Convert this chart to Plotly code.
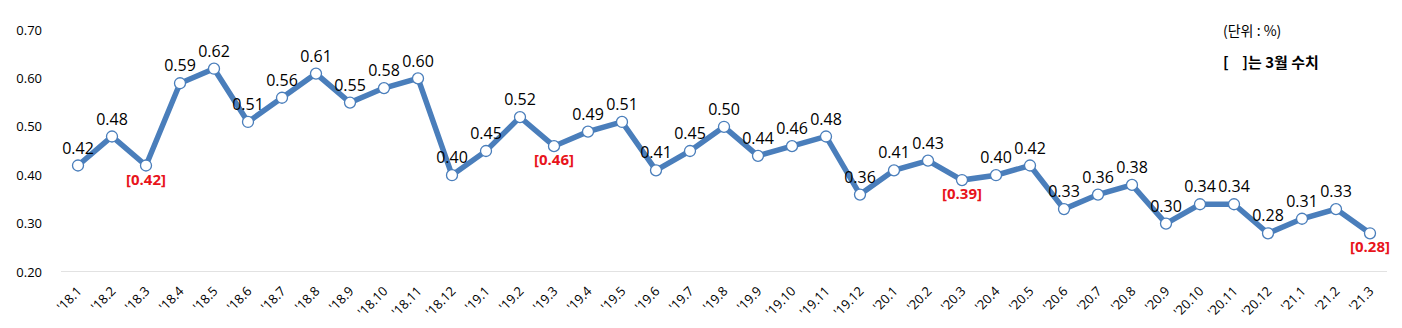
import plotly.graph_objects as go

months = ["'18.1", "'18.2", "'18.3", "'18.4", "'18.5", "'18.6", "'18.7", "'18.8", "'18.9", "'18.10",
          "'18.11", "'18.12", "'19.1", "'19.2", "'19.3", "'19.4", "'19.5", "'19.6", "'19.7", "'19.8",
          "'19.9", "'19.10", "'19.11", "'19.12", "'20.1", "'20.2", "'20.3", "'20.4", "'20.5", "'20.6",
          "'20.7", "'20.8", "'20.9", "'20.10", "'20.11", "'20.12", "'21.1", "'21.2", "'21.3"]
rates = [0.42, 0.48, 0.42, 0.59, 0.62, 0.51, 0.56, 0.61, 0.55, 0.58,
         0.60, 0.40, 0.45, 0.52, 0.46, 0.49, 0.51, 0.41, 0.45, 0.50,
         0.44, 0.46, 0.48, 0.36, 0.41, 0.43, 0.39, 0.40, 0.42, 0.33,
         0.36, 0.38, 0.30, 0.34, 0.34, 0.28, 0.31, 0.33, 0.28]
y_ticks = [0.20, 0.30, 0.40, 0.50, 0.60, 0.70]

LINE = "#4A7EBB"
FONT = "Open Sans"

is_march = [m.endswith(".3") for m in months]
labels = [f"<b>[{v:.2f}]</b>" if mar else f"{v:.2f}" for v, mar in zip(rates, is_march)]
positions = ["bottom center" if mar else "top center" for mar in is_march]
colors = ["#E8141B" if mar else "#000000" for mar in is_march]
sizes = [15 if mar else 16 for mar in is_march]

fig = go.Figure()
fig.add_trace(go.Scatter(
    x=months, y=rates,
    mode="lines+markers+text",
    line=dict(color=LINE, width=5.5),
    marker=dict(size=11, color="white", line=dict(color=LINE, width=1.3)),
    text=labels, textposition=positions,
    textfont=dict(family=FONT, size=sizes, color=colors),
    cliponaxis=False,
    hoverinfo="x+y",
))

fig.update_layout(
    width=1402, height=328,
    margin=dict(l=61, r=15, t=30, b=56),
    paper_bgcolor="white", plot_bgcolor="white",
    showlegend=False,
    font=dict(family=FONT, color="#000000"),
    xaxis=dict(
        type="category", range=[-0.5, len(months) - 0.5],
        tickangle=-45, tickfont=dict(family=FONT, size=13),
        showgrid=False, showline=False, zeroline=False, ticks="",
        ticklabelstandoff=8, automargin=False,
    ),
    yaxis=dict(
        range=[0.2, 0.7], tickvals=y_ticks,
        ticktext=[f"{t:.2f}" for t in y_ticks],
        tickfont=dict(family=FONT, size=13),
        showgrid=False, zeroline=False, showline=False, ticks="",
        ticklabelstandoff=18, automargin=False,
    ),
    shapes=[dict(type="line", xref="paper", yref="y", x0=0, x1=1, y0=0.2, y1=0.2,
                 line=dict(color="#D9D9D9", width=1.3), layer="below")],
    annotations=[
        dict(text="(단위 : %)", xref="paper", yref="paper", x=0.875, y=1.0,
             xanchor="left", yanchor="middle", showarrow=False,
             font=dict(family="Noto Sans CJK KR", size=14, color="#000000")),
        dict(text="<b>[    ]는 3월 수치</b>", xref="paper", yref="paper", x=0.875, y=0.87,
             xanchor="left", yanchor="middle", showarrow=False,
             font=dict(family="Noto Sans CJK KR", size=15, color="#000000")),
    ],
)

fig.write_html("out.html")
